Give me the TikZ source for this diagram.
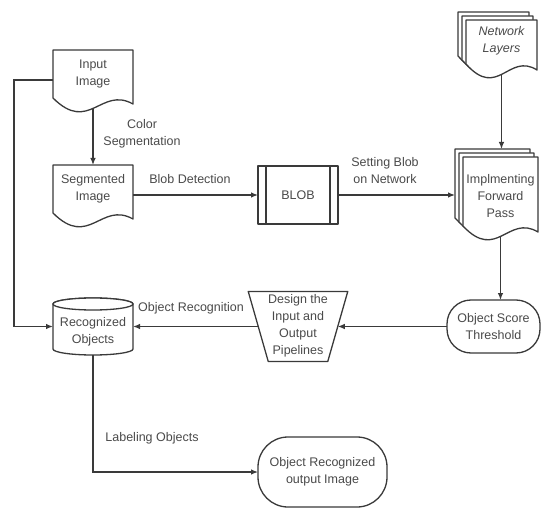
\documentclass[tikz,border=0pt]{standalone}
\usepackage{fontspec}
\setmainfont{Liberation Sans}
\usetikzlibrary{calc,arrows.meta}
\definecolor{ln}{HTML}{3A3A3A}
\definecolor{tx}{HTML}{4A4A4A}
\newcommand\docwave[1]{%
  \draw[shp] (#1.north west) -- ($(#1.south west)+(0,-12)$)
    .. controls ($(#1.south west)!0.45!(#1.south east)+(0,24)$) and ($(#1.south west)!0.6!(#1.south east)+(0,-24)$)
    .. ($(#1.south east)+(0,-6)$) -- (#1.north east) -- cycle;}
\begin{document}
\begin{tikzpicture}[x=1pt,y=-1pt,
  geo/.style={inner sep=0pt, outer sep=0pt, draw=none},
  txt/.style={text=tx, font=\fontsize{12.5}{17}\selectfont, align=center, inner sep=0pt},
  shp/.style={draw=ln, line width=1.3pt, fill=white, line join=round},
  con/.style={draw=ln, line width=1.2pt},
  arr/.style={con, -{Latex[length=7pt,width=5.5pt]}}]
\useasboundingbox (0,0) rectangle (541,508);
\fill[white] (0,0) rectangle (541,508);

% geometry nodes
\node[geo, minimum width=80pt, minimum height=60pt] (inp) at (93,80) {};
\node[geo, minimum width=80pt, minimum height=60pt] (seg) at (93,195) {};
\node[geo, minimum width=80pt, minimum height=58pt] (blob) at (298,195) {};
\node[geo, minimum width=71pt, minimum height=56pt] (net) at (501.5,48) {};
\node[geo, minimum width=71pt, minimum height=56pt] (net2) at (497.5,44) {};
\node[geo, minimum width=71pt, minimum height=56pt] (net3) at (493.5,40) {};
\node[geo, minimum width=75pt, minimum height=81pt] (impl) at (500.5,197.5) {};
\node[geo, minimum width=75pt, minimum height=81pt] (impl2) at (496.5,193.5) {};
\node[geo, minimum width=75pt, minimum height=81pt] (impl3) at (492.5,189.5) {};
\node[geo, minimum width=93pt, minimum height=53pt] (ost) at (493.5,326.5) {};
\node[geo, minimum width=79.5pt, minimum height=70pt] (des) at (298,326.5) {};
\node[geo, minimum width=80pt, minimum height=57pt] (rec) at (93,326.5) {};
\node[geo, minimum width=129pt, minimum height=70pt] (out) at (322.5,472) {};

% shapes
\docwave{inp}
\docwave{seg}
\draw[shp] (blob.north west) rectangle (blob.south east);
\draw[shp] ($(blob.north west)+(8,0)$) -- ($(blob.south west)+(8,0)$);
\draw[shp] ($(blob.north east)+(-8,0)$) -- ($(blob.south east)+(-8,0)$);
\docwave{net3}
\docwave{net2}
\docwave{net}
\docwave{impl3}
\docwave{impl2}
\docwave{impl}
\draw[shp, rounded corners=24pt] (ost.north west) rectangle (ost.south east);
\draw[shp] ($(des.north west)+(-10,0)$) -- ($(des.north east)+(10,0)$) -- ($(des.south east)+(-10,0)$) -- ($(des.south west)+(10,0)$) -- cycle;
\draw[shp] ($(rec.north west)+(0,6)$) -- ($(rec.south west)+(0,-6)$)
   arc[start angle=180, end angle=360, x radius=40pt, y radius=6pt]
   -- ($(rec.north east)+(0,6)$)
   arc[start angle=0, end angle=180, x radius=40pt, y radius=6pt] -- cycle;
\draw[shp] ($(rec.north)+(0,6)$) ellipse [x radius=40pt, y radius=6pt];
\draw[shp, rounded corners=30pt] (out.north west) rectangle (out.south east);

% texts
\node[txt] (inpT) at (93,73.5) {Input\\Image};
\node[txt] (segT) at (93,188.5) {Segmented\\Image};
\node[txt] (blobT) at (298,195) {BLOB};
\node[txt, font=\fontsize{12.5}{17}\selectfont\itshape] (netT) at (501.5,40.5) {Network\\Layers};
\node[txt] (implT) at (500.5,196) {Implmenting\\Forward\\Pass};
\node[txt] (ostT) at (493.5,326.5) {Object Score\\Threshold};
\node[txt] (desT) at (298,326) {Design the\\Input and\\Output\\Pipelines};
\node[txt] (recT) at (93,331.5) {Recognized\\Objects};
\node[txt] (outT) at (322.5,471.5) {Object Recognized\\output Image};

% connectors
\draw[arr] ($(inp.south)+(0,-2)$) -- (seg.north);
\draw[arr] (seg.east) -- (blob.west);
\draw[arr] (blob.east) -- (blob.east -| impl3.west);
\draw[arr] ($(net.south)+(0,-2)$) -- (net.south |- impl3.north);
\draw[arr] ($(impl.south)+(0,-2)$) -- (impl.south |- ost.north);
\draw[arr] (ost.west) -- (des.east);
\draw[arr] (des.west) -- (rec.east);
\draw[arr] (inp.west) -- ++(-39,0) |- (rec.west);
\draw[arr] (rec.south) |- (out.west);

% connector labels
\node[txt] (lColor) at (142,134) {Color\\Segmentation};
\node[txt] (lBlob) at (190,179) {Blob Detection};
\node[txt] (lSet) at (385,171) {Setting Blob\\on Network};
\node[txt] (lRec) at (191,308) {Object Recognition};
\node[txt] (lLab) at (152,438) {Labeling Objects};
\end{tikzpicture}
\end{document}
